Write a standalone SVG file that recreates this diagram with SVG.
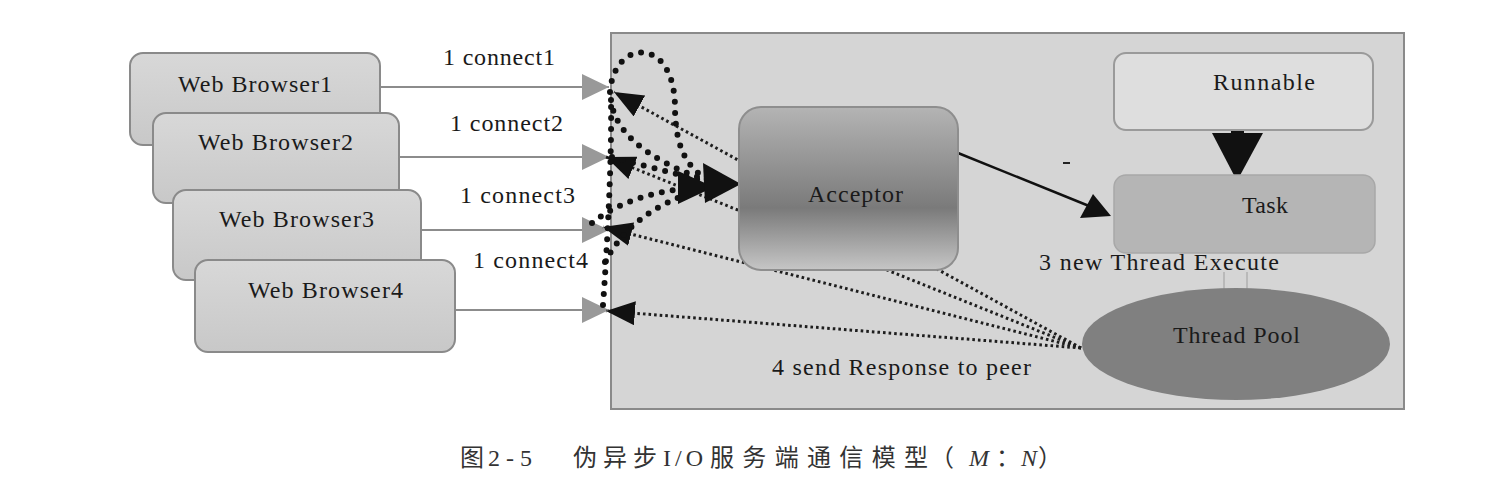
<svg xmlns="http://www.w3.org/2000/svg" width="1508" height="490" viewBox="0 0 1508 490">
<defs>
<style>
.lbl{font-family:"Liberation Serif","Times New Roman",serif;font-size:24px;fill:#1a1a1a}
.box{stroke:#8a8a8a;stroke-width:2}
.conn{stroke:#8c8c8c;stroke-width:2;fill:none}
.thin{stroke:#1e1e1e;stroke-width:3;fill:none;stroke-dasharray:2.6 3}
.bold{stroke:#111;stroke-width:6;fill:none;stroke-dasharray:0 11;stroke-linecap:round}
.cap{font-family:"Liberation Serif","Noto Sans CJK SC",serif;font-size:24px;fill:#333}
</style>
<linearGradient id="gBrowser" x1="0" y1="0" x2="0" y2="1">
<stop offset="0" stop-color="#d8d8d8"/><stop offset="1" stop-color="#c8c8c8"/>
</linearGradient>
<linearGradient id="gAcc" x1="0" y1="0" x2="0" y2="1">
<stop offset="0" stop-color="#b4b4b4"/><stop offset="0.62" stop-color="#7a7a7a"/><stop offset="1" stop-color="#c6c6c6"/>
</linearGradient>
<marker id="mGray" markerUnits="userSpaceOnUse" markerWidth="30" markerHeight="28" refX="27" refY="13" orient="auto">
<path d="M0,0 L27,13 L0,26 z" fill="#999"/>
</marker>
<marker id="mBlack" markerUnits="userSpaceOnUse" markerWidth="32" markerHeight="26" refX="29" refY="12" orient="auto">
<path d="M0,0 L29,12 L0,24 z" fill="#111"/>
</marker>
</defs>
<rect width="1508" height="490" fill="#fff"/>

<g id="server-panel">
<rect x="611" y="33" width="793" height="376" fill="#d5d5d5" stroke="#8a8a8a" stroke-width="2"/>
</g>

<g id="connectors">
<path class="conn" d="M380,87 H609" marker-end="url(#mGray)"/>
<path class="conn" d="M399,157 H609" marker-end="url(#mGray)"/>
<path class="conn" d="M421,230 H609" marker-end="url(#mGray)"/>
<path class="conn" d="M455,310 H609" marker-end="url(#mGray)"/>
<text class="lbl" x="443" y="65" textLength="112" lengthAdjust="spacing">1 connect1</text>
<text class="lbl" x="450" y="131" textLength="113" lengthAdjust="spacing">1 connect2</text>
<text class="lbl" x="460" y="203" textLength="115" lengthAdjust="spacing">1 connect3</text>
<text class="lbl" x="473" y="268" textLength="115" lengthAdjust="spacing">1 connect4</text>

<path class="thin" d="M1081,348 L614,92" marker-end="url(#mBlack)"/>
<path class="thin" d="M1081,348 L606,157" marker-end="url(#mBlack)"/>
<path class="thin" d="M1081,348 L603,227" marker-end="url(#mBlack)"/>
<path class="thin" d="M1081,348 L606,311" marker-end="url(#mBlack)"/>

<path class="bold" d="M610,92 C614,38 676,35 675,110 C676,150 688,170 712,182"/>
<path class="bold" d="M611,100 C614,128 640,156 700,178"/>
<path class="bold" d="M603,305 C607,250 612,160 611,100"/>
<path class="bold" d="M612,157 C640,165 670,172 700,180"/>
<path class="bold" d="M592,223 C620,200 660,190 700,187"/>
<path class="bold" d="M605,262 C622,230 650,205 700,190"/>
<polygon points="678,171 678,204 714,187" fill="#111"/>
<polygon points="703,163 705,203 741,184" fill="#111"/>

<path d="M958,153 L1094,208" stroke="#111" stroke-width="2.5" fill="none"/>
<polygon points="1080,218 1093,194 1111,216" fill="#111"/>
<rect x="1231" y="128" width="13" height="7" fill="#111"/>
<polygon points="1212,133 1263,133 1237,181" fill="#111"/>
<path d="M1224,272 V298 M1247,272 V298" stroke="#b9b9b9" stroke-width="2"/>
<line x1="1063" y1="163" x2="1070" y2="163" stroke="#222" stroke-width="2"/>
<text class="lbl" x="1039" y="270" textLength="240" lengthAdjust="spacing">3 new Thread Execute</text>
<text class="lbl" x="772" y="375" textLength="259" lengthAdjust="spacing">4 send Response to peer</text>
</g>

<g id="browser1">
<rect class="box" x="130" y="53" width="250" height="92" rx="13" fill="url(#gBrowser)"/>
<text class="lbl" x="178" y="92" textLength="154" lengthAdjust="spacing">Web Browser1</text>
</g>
<g id="browser2">
<rect class="box" x="153" y="113" width="246" height="90" rx="13" fill="url(#gBrowser)"/>
<text class="lbl" x="198" y="150" textLength="155" lengthAdjust="spacing">Web Browser2</text>
</g>
<g id="browser3">
<rect class="box" x="173" y="190" width="248" height="90" rx="13" fill="url(#gBrowser)"/>
<text class="lbl" x="219" y="227" textLength="155" lengthAdjust="spacing">Web Browser3</text>
</g>
<g id="browser4">
<rect class="box" x="195" y="260" width="260" height="92" rx="13" fill="url(#gBrowser)"/>
<text class="lbl" x="248" y="298" textLength="155" lengthAdjust="spacing">Web Browser4</text>
</g>

<g id="acceptor">
<rect x="739" y="107" width="219" height="163" rx="22" fill="url(#gAcc)" stroke="#8e8e8e" stroke-width="2"/>
<text class="lbl" x="808" y="202" textLength="95" lengthAdjust="spacing">Acceptor</text>
</g>

<g id="runnable">
<rect x="1114" y="53" width="259" height="77" rx="12" fill="#dedede" stroke="#9a9a9a" stroke-width="2"/>
<text class="lbl" x="1213" y="90" textLength="102" lengthAdjust="spacing">Runnable</text>
</g>
<g id="task">
<rect x="1114" y="175" width="261" height="78" rx="12" fill="#b5b5b5" stroke="#a8a8a8" stroke-width="1.5"/>
<text class="lbl" x="1242" y="213" textLength="46" lengthAdjust="spacing">Task</text>
</g>
<g id="threadpool">
<ellipse cx="1236" cy="344" rx="154" ry="56" fill="#808080"/>
<text class="lbl" x="1173" y="343" textLength="127" lengthAdjust="spacing">Thread Pool</text>
</g>

<g id="caption">
<text class="cap" x="460" y="466">图</text>
<text class="cap" x="488" y="466" textLength="44" lengthAdjust="spacing">2-5</text>
<text class="cap" x="573" y="466" textLength="84" lengthAdjust="spacing">伪异步</text>
<text class="cap" x="663" y="466" textLength="40" lengthAdjust="spacing">I/O</text>
<text class="cap" x="710" y="466" textLength="218" lengthAdjust="spacing">服务端通信模型</text>
<text class="cap" x="930" y="466">（</text>
<text class="cap" x="969" y="466" font-style="italic">M</text>
<text class="cap" x="996" y="466">：</text>
<text class="cap" x="1021" y="466" font-style="italic">N</text>
<text class="cap" x="1038" y="466">）</text>
</g>
</svg>
